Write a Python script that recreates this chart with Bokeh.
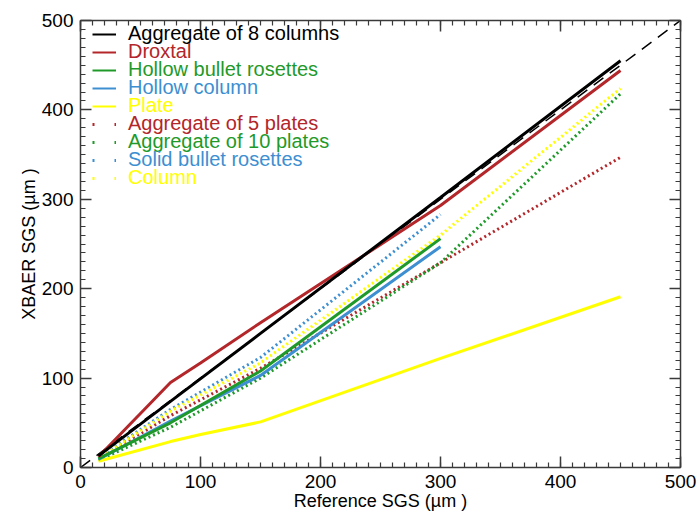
from bokeh.plotting import figure
from bokeh.models import LinearAxis, SingleIntervalTicker, Legend, LegendItem, Range1d
from bokeh.embed import file_html
from bokeh.resources import INLINE

# ---- data ----
agg8_x = [15, 75, 150, 300, 450]
agg8_y = [13, 74, 150, 302, 455]

droxtal_x = [15, 75, 100, 150, 300, 450]
droxtal_y = [12, 95, 117, 162, 293, 444]

hbr_x = [15, 75, 150, 300]
hbr_y = [10, 50, 108, 256]

hcol_x = [15, 75, 150, 300]
hcol_y = [9, 52, 103, 247]

plate_x = [15, 75, 100, 150, 300, 450]
plate_y = [7, 29, 37, 51, 122, 191]

agg5_x = [15, 75, 150, 300, 450]
agg5_y = [10, 58, 111, 229, 347]

agg10_x = [15, 75, 150, 300, 450]
agg10_y = [8, 45, 100, 229, 418]

sbr_x = [15, 75, 150, 300]
sbr_y = [11, 65, 123, 283]

col_x = [15, 75, 150, 300, 450]
col_y = [10, 63, 117, 260, 424]

one_to_one = [0, 500]
tick_values = [0, 100, 200, 300, 400, 500]

names = ["Aggregate of 8 columns", "Droxtal", "Hollow bullet rosettes", "Hollow column",
         "Plate", "Aggregate of 5 plates", "Aggregate of 10 plates",
         "Solid bullet rosettes", "Column"]

BLACK = "#000000"
RED = "#b3262a"
GREEN = "#1f9a2a"
BLUE = "#3d8fd1"
YELLOW = "#ffff00"

FONT = "Liberation Sans"

p = figure(width=698, height=516, x_range=Range1d(0, 500), y_range=Range1d(0, 500),
           output_backend="svg", toolbar_location=None,
           min_border_left=80, min_border_right=18, min_border_top=20, min_border_bottom=49,
           outline_line_color=None, background_fill_color="white",
           x_axis_label="Reference SGS (\u00b5m )", y_axis_label="XBAER SGS (\u00b5m )")
p.xgrid.visible = False
p.ygrid.visible = False

AX = "#3a3a3a"


def style(ax, labels=True):
    ax.ticker = SingleIntervalTicker(interval=100, num_minor_ticks=10)
    ax.major_tick_in = 11
    ax.major_tick_out = 0
    ax.minor_tick_in = 5
    ax.minor_tick_out = 0
    ax.axis_line_color = AX
    ax.axis_line_width = 1.5
    ax.major_tick_line_color = AX
    ax.major_tick_line_width = 1.5
    ax.minor_tick_line_color = AX
    ax.minor_tick_line_width = 1.2
    ax.major_label_text_font = FONT
    ax.major_label_text_color = "black"
    if labels:
        ax.major_label_text_font_size = "19px"
        ax.major_label_standoff = 7
        ax.axis_label_text_font = FONT
        ax.axis_label_text_font_size = "18px"
        ax.axis_label_text_font_style = "normal"
        ax.axis_label_text_color = "black"
        ax.axis_label_standoff = 0
    else:
        ax.major_label_text_font_size = "0px"
        ax.major_label_standoff = 0
        ax.major_label_overrides = {v: "" for v in tick_values}


style(p.xaxis[0])
style(p.yaxis[0])
top = LinearAxis()
right = LinearAxis()
style(top, labels=False)
style(right, labels=False)
p.add_layout(top, "above")
p.add_layout(right, "right")

# 1:1 line
p.line(one_to_one, one_to_one, line_color="black", line_width=1.5, line_dash="12 8")

DOT = "2 3"
p.line(agg5_x, agg5_y, line_color=RED, line_width=3, line_dash=DOT)
p.line(agg10_x, agg10_y, line_color=GREEN, line_width=3, line_dash=DOT)
p.line(sbr_x, sbr_y, line_color=BLUE, line_width=3, line_dash=DOT)
p.line(col_x, col_y, line_color=YELLOW, line_width=3, line_dash=DOT)
p.line(plate_x, plate_y, line_color=YELLOW, line_width=3)
p.line(hcol_x, hcol_y, line_color=BLUE, line_width=3)
p.line(hbr_x, hbr_y, line_color=GREEN, line_width=3)
p.line(droxtal_x, droxtal_y, line_color=RED, line_width=3)
p.line(agg8_x, agg8_y, line_color=BLACK, line_width=3)

# legend: one legend per entry so each label gets its own colour.
# legend-only renderers hold a point outside the visible range
hidden_x = [-100, -90]
hidden_y = [-100, -100]
colors = [BLACK, RED, GREEN, BLUE, YELLOW, RED, GREEN, BLUE, YELLOW]
dashes = ["solid"] * 5 + ["2 20"] * 4
for i, (name, c, d) in enumerate(zip(names, colors, dashes)):
    r = p.line(x=hidden_x, y=hidden_y, line_color=c,
               line_width=2 if d == "solid" else 3, line_dash=d)
    leg = Legend(items=[LegendItem(label=name, renderers=[r])],
                 location=(12, 422 - 18 * i),
                 background_fill_alpha=0, border_line_alpha=0,
                 padding=0, margin=0, spacing=0,
                 glyph_width=24, glyph_height=18, label_height=18,
                 label_standoff=12, label_text_font=FONT,
                 label_text_font_size="20px", label_text_color=c)
    p.add_layout(leg)

open("out.html", "w").write(file_html(p, INLINE))
